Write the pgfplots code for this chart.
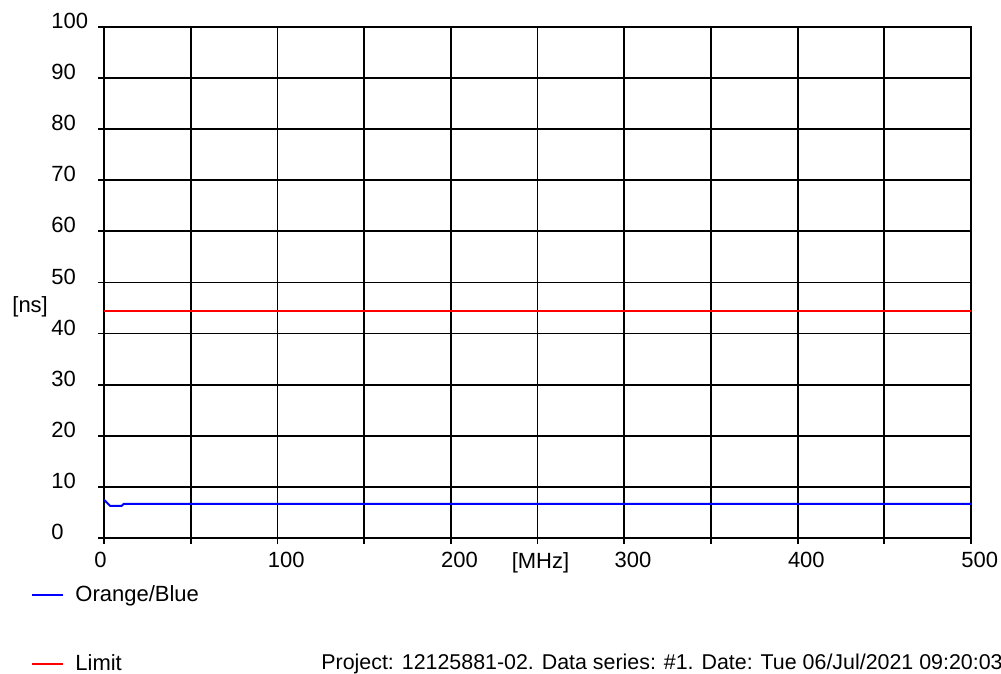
\documentclass[border=0pt]{standalone}
\usepackage{fontspec}
\setmainfont{Liberation Sans}
\usepackage{pgfplots}
\pgfplotsset{compat=1.18}

\begin{document}
\begin{tikzpicture}[font=\fontsize{11}{13}\selectfont]
\begin{axis}[
	scale only axis, width=433.5pt, height=255.5pt,
	xmin=0, xmax=500, ymin=0, ymax=100,
	xtick={0,100,...,500}, minor xtick={50,150,...,450},
	ytick={0,10,...,100},
	grid=both,
	major grid style={black, line width=0.9pt},
	minor grid style={black, line width=0.9pt},
	axis line style={black, line width=1pt},
	every tick/.style={black, line width=0.9pt},
	tick align=outside, tick pos=left,
	major tick length=3pt, minor tick length=3pt,
	/pgf/number format/assume math mode=true,
	xticklabel style={anchor=north west, inner sep=0pt, xshift=-5pt, yshift=-4pt},
	yticklabel style={anchor=west, inner sep=0pt, xshift=-23.5pt, yshift=3pt},
	xlabel={[MHz]}, ylabel={[ns]},
	every axis x label/.style={at={(axis description cs:0.5,0)}, anchor=north, inner sep=0pt, xshift=1.5pt, yshift=-7pt},
	every axis y label/.style={at={(axis description cs:0,0.453)}, anchor=west, inner sep=0pt, xshift=-46pt},
	legend style={at={(axis description cs:-0.0842,-0.092)}, anchor=north west, draw=none, fill=none, inner sep=0pt, row sep=25pt, nodes={inner sep=0pt}},
	legend cell align=left,
	legend image code/.code={\draw[#1] (0pt,0pt) -- (15.5pt,0pt);},
	/tikz/every odd column/.append style={column sep=5.5pt},
]
\addplot[blue, line width=1pt] coordinates {
	(0,7.4) (0.6,7.3) (3.5,6.3) (10.2,6.3) (11.5,6.7) (500,6.7)
};
\addlegendentry{Orange/Blue}
\addplot[red, line width=1pt] coordinates {
	(0,44.4) (500,44.4)
};
\addlegendentry{Limit}
\end{axis}
\path (-52pt,-68pt) rectangle (448.5pt,269pt);
\node[overlay, anchor=west, inner sep=0pt, font=\fontsize{10.7}{13}\selectfont] at (108.5pt,-63pt) {Project: 12125881-02. Data series: \#1. Date: Tue 06/Jul/2021 09:20:03};
\end{tikzpicture}
\end{document}
